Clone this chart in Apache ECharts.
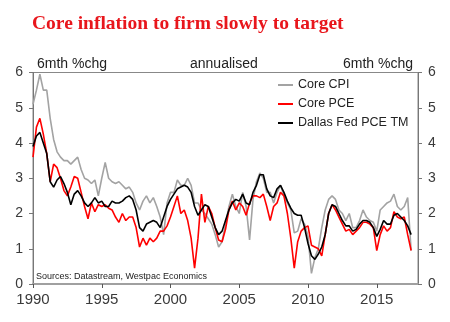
<!DOCTYPE html>
<html>
<head>
<meta charset="utf-8">
<script src="https://cdn.jsdelivr.net/npm/echarts@6/dist/echarts.min.js"></script>
<style>html,body{margin:0;padding:0;background:#fff}#c{width:450px;height:322px}</style>
</head>
<body>
<div id="c"></div>
<script>
// Quarterly observations, starting 1990 Q1 (step 0.25 yr)
const startYear = 1990;
const xTicks = [1990, 1995, 2000, 2005, 2010, 2015];
const coreCPI = [
5.1,5.5,5.95,5.5, 5.5,4.7,4.1,3.75, 3.6,3.5,3.5,3.4, 3.5,3.6,3.25,3.0,
2.95,2.85,2.95,2.5, 3.0,3.45,3.0,2.9, 2.85,2.9,2.8,2.7, 2.75,2.6,2.3,2.1,
2.35,2.5,2.3,2.45, 2.2,1.9,1.4,2.3, 2.6,2.6,2.95,2.8, 2.8,3.0,2.8,2.3,
2.3,2.1,2.0,1.85, 1.7,1.4,1.05,1.2, 1.7,2.2,2.55,2.2, 2.0,2.6,2.2,1.25,
2.4,2.9,3.15,3.0, 2.6,2.6,2.3,2.6, 2.8,2.5,2.3,2.1, 1.45,1.5,1.85,1.7,
1.35,0.3,0.75,1.0, 1.6,2.1,2.4,2.5, 2.4,2.1,2.0,1.8, 2.0,1.6,1.6,1.8,
2.1,1.9,1.8,1.75, 1.5,2.1,2.2,2.3, 2.35,2.55,2.2,2.1, 2.2,2.45,0.95
];
const corePCE = [
3.6,4.45,4.7,4.25, 3.7,2.9,3.4,3.3, 3.0,2.65,2.5,2.75, 3.05,3.0,2.6,2.2,
1.85,2.3,2.05,2.25, 2.2,2.25,2.15,2.1, 1.9,1.75,2.0,1.8, 1.9,1.9,1.6,1.05,
1.3,1.1,1.3,1.2, 1.3,1.5,1.5,1.65, 1.9,2.2,2.5,2.0, 2.1,1.8,1.3,0.45,
1.3,2.55,1.75,2.2, 2.0,1.6,1.25,1.2, 1.55,2.1,2.35,2.1, 2.3,2.2,1.95,2.3,
2.5,2.5,2.45,2.55, 2.2,1.8,2.2,2.3, 2.6,2.5,2.0,1.3, 0.45,1.2,1.5,1.6,
1.65,1.1,1.05,1.0, 0.8,1.4,2.0,2.25, 2.1,1.9,1.7,1.5, 1.55,1.4,1.5,1.6,
1.75,1.75,1.7,1.6, 0.95,1.4,1.65,1.5, 1.6,2.05,1.9,1.85, 1.9,1.4,0.95
];
const dallasPCE = [
3.9,4.2,4.3,4.0, 3.7,2.9,2.75,2.95, 3.05,2.85,2.6,2.25, 2.55,2.65,2.5,2.3,
2.2,2.3,2.45,2.3, 2.35,2.2,2.2,2.35, 2.3,2.3,2.35,2.45, 2.5,2.4,2.1,1.6,
1.5,1.7,1.75,1.8, 1.75,1.6,1.9,2.2, 2.4,2.55,2.7,2.75, 2.8,2.75,2.6,2.2,
1.95,2.1,2.25,2.2, 1.9,1.6,1.4,1.5, 1.8,2.1,2.3,2.4, 2.35,2.55,2.3,2.25,
2.6,2.8,3.1,3.1, 2.7,2.5,2.45,2.7, 2.8,2.6,2.35,2.15, 2.0,1.95,1.95,1.6,
1.15,0.8,0.7,0.85, 1.05,1.4,2.0,2.25, 2.2,2.0,1.8,1.65, 1.65,1.5,1.55,1.7,
1.8,1.8,1.75,1.6, 1.35,1.55,1.8,1.7, 1.7,1.95,2.0,1.9, 1.8,1.65,1.4
];
const seriesNames = ['Core CPI', 'Core PCE', 'Dallas Fed PCE TM'];

const toPairs = arr => arr.map((v, i) => [startYear + i * 0.25, v]);

const chart = echarts.init(document.getElementById('c'), null, {renderer: 'canvas'});
const axisCol = '#777';
const labelCol = '#3a3a3a';
chart.setOption({
  animation: false,
  backgroundColor: '#fff',
  grid: {left: 33, right: 32, top: 72.5, bottom: 38, show: true, borderColor: '#888', borderWidth: 1},
  graphic: [
    {type: 'text', left: 32, top: 14, style: {text: 'Core inflation to firm slowly to target', font: 'bold 19.5px "Liberation Serif", "Times New Roman", serif', fill: '#e8161c'}},
    {type: 'text', left: 37, top: 57, style: {text: '6mth %chg', font: '14px "Liberation Sans", Arial, sans-serif', fill: '#222'}},
    {type: 'text', left: 190, top: 57, style: {text: 'annualised', font: '14px "Liberation Sans", Arial, sans-serif', fill: '#222'}},
    {type: 'text', right: 37, top: 57, style: {text: '6mth %chg', font: '14px "Liberation Sans", Arial, sans-serif', fill: '#222'}},
    {type: 'text', left: 36, top: 272, style: {text: 'Sources: Datastream, Westpac Economics', font: '9px "Liberation Sans", Arial, sans-serif', fill: '#222'}}
  ],
  legend: {
    orient: 'vertical', left: 273, top: 73, itemWidth: 15, itemHeight: 2, itemGap: 5,
    textStyle: {fontSize: 12.5, color: '#222', fontFamily: '"Liberation Sans", Arial, sans-serif', lineHeight: 14},
    data: seriesNames.map(n => ({name: n, icon: 'rect'}))
  },
  xAxis: {
    type: 'value', min: 1990, max: 2018, interval: 5,
    axisLine: {show: true, lineStyle: {color: '#a0a0a0', width: 2}},
    axisTick: {show: true, length: 4, lineStyle: {color: '#555'}},
    axisLabel: {show: true, showMaxLabel: false, margin: 8, fontSize: 15, color: labelCol,
      fontFamily: '"Liberation Sans", Arial, sans-serif',
      formatter: v => xTicks.includes(v) ? String(v) : ''},
    splitLine: {show: false}
  },
  yAxis: [
    {type: 'value', min: 0, max: 6, interval: 1, position: 'left',
     axisLine: {show: true, lineStyle: {color: axisCol}},
     axisTick: {show: true, length: 4, lineStyle: {color: axisCol}},
     axisLabel: {margin: 10, fontSize: 14, color: labelCol, fontFamily: '"Liberation Sans", Arial, sans-serif'},
     splitLine: {show: false}},
    {type: 'value', min: 0, max: 6, interval: 1, position: 'right',
     axisLine: {show: true, lineStyle: {color: axisCol}},
     axisTick: {show: true, length: 4, lineStyle: {color: axisCol}},
     axisLabel: {margin: 10, fontSize: 14, color: labelCol, fontFamily: '"Liberation Sans", Arial, sans-serif'},
     splitLine: {show: false}}
  ],
  series: [
    {name: seriesNames[0], type: 'line', data: toPairs(coreCPI), symbol: 'none', itemStyle: {color: '#a3a3a3'}, lineStyle: {color: '#a3a3a3', width: 1.6}, z: 2},
    {name: seriesNames[1], type: 'line', data: toPairs(corePCE), symbol: 'none', itemStyle: {color: '#ff0000'}, lineStyle: {color: '#ff0000', width: 1.6}, z: 3},
    {name: seriesNames[2], type: 'line', data: toPairs(dallasPCE), symbol: 'none', itemStyle: {color: '#000'}, lineStyle: {color: '#000', width: 1.6}, z: 4}
  ]
});
</script>
</body>
</html>
